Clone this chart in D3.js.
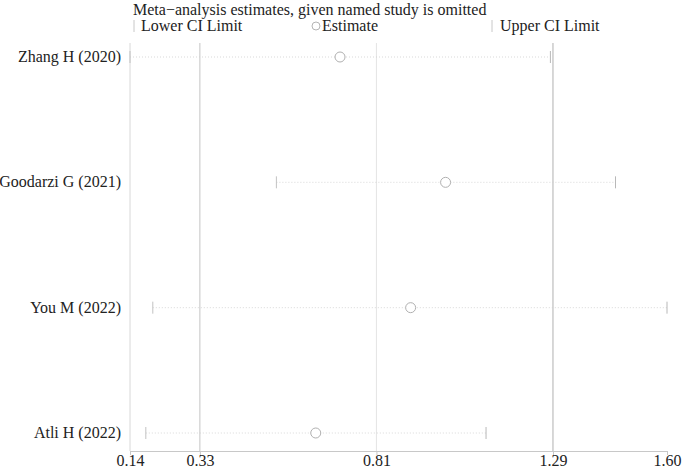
<!DOCTYPE html>
<html>
<head>
<meta charset="utf-8">
<title>Meta-analysis sensitivity plot</title>
<script src="https://d3js.org/d3.v7.min.js"></script>
</head>
<body style="margin:0;background:#fff">
<svg id="chart" width="685" height="470"></svg>
<script>
// data
var studies = ['Zhang H (2020)', 'Goodarzi G (2021)', 'You M (2022)', 'Atli H (2022)'];
var estimates = [0.711, 0.998, 0.903, 0.645];
var lowerCI = [0.14, 0.538, 0.202, 0.183];
var upperCI = [1.283, 1.46, 1.60, 1.108];
var tickValues = [0.14, 0.33, 0.81, 1.29, 1.60];
var tickLabels = ['0.14', '0.33', '0.81', '1.29', '1.60'];
// overall pooled lower / estimate / upper
var refLines = [0.33, 0.81, 1.29];
var refColors = ['#c4c4c4', '#e4e4e4', '#b0b0b0'];

var serif = '"Liberation Serif"';
var fs = '16px';
var svg = d3.select('#chart');
var x = d3.scaleLinear().domain([0.14, 1.60]).range([130, 667]);
var y = d3.scalePoint().domain(studies).range([57, 433]);
var plotTop = 43, plotBottom = 451;

function label(sel) {
    return sel.style('font-family', serif).style('font-size', fs).style('fill', '#222');
}

// title
svg.append('text')
    .attr('x', 133).attr('y', 15)
    .call(label)
    .text('Meta\u2212analysis estimates, given named study is omitted');

// legend
var leg = svg.append('g');
leg.append('line').attr('x1', 134).attr('x2', 134).attr('y1', 20).attr('y2', 32)
    .attr('stroke', '#c8c8c8');
leg.append('text').attr('x', 141).attr('y', 31).call(label).text('Lower CI Limit');
leg.append('circle').attr('cx', 316).attr('cy', 26).attr('r', 4)
    .attr('fill', 'none').attr('stroke', '#b5b5b5');
leg.append('text').attr('x', 322).attr('y', 31).call(label).text('Estimate');
leg.append('line').attr('x1', 492).attr('x2', 492).attr('y1', 20).attr('y2', 32)
    .attr('stroke', '#c8c8c8');
leg.append('text').attr('x', 500).attr('y', 31).call(label).text('Upper CI Limit');

// left axis line
svg.append('line')
    .attr('x1', x(0.14)).attr('x2', x(0.14))
    .attr('y1', plotTop).attr('y2', plotBottom)
    .attr('stroke', '#d8d8d8');

// reference lines
svg.selectAll('.ref')
    .data(refLines)
    .enter().append('line')
    .attr('class', 'ref')
    .attr('x1', function (d) { return x(d); })
    .attr('x2', function (d) { return x(d); })
    .attr('y1', plotTop).attr('y2', plotBottom)
    .attr('stroke', function (d, i) { return refColors[i]; });

// bottom axis
var xAxis = d3.axisBottom(x)
    .tickValues(tickValues)
    .tickFormat(function (d, i) { return tickLabels[i]; })
    .tickSizeOuter(0)
    .tickSize(4);
var ax = svg.append('g')
    .attr('transform', 'translate(0,' + plotBottom + ')')
    .call(xAxis);
ax.select('.domain').attr('stroke', '#c8c8c8');
ax.selectAll('.tick line').attr('stroke', '#c8c8c8');
ax.selectAll('.tick text')
    .attr('y', 4)
    .call(label);

// study labels
svg.selectAll('.lab')
    .data(studies)
    .enter().append('text')
    .attr('class', 'lab')
    .attr('x', 121)
    .attr('y', function (d) { return y(d) + 5; })
    .attr('text-anchor', 'end')
    .call(label)
    .text(function (d) { return d; });

// CI rows
var rows = svg.selectAll('.row')
    .data(studies)
    .enter().append('g')
    .attr('class', 'row');

rows.append('line')
    .attr('x1', function (d, i) { return x(lowerCI[i]); })
    .attr('x2', function (d, i) { return x(upperCI[i]); })
    .attr('y1', function (d) { return y(d); })
    .attr('y2', function (d) { return y(d); })
    .attr('stroke', '#cfcfcf')
    .attr('stroke-width', 0.8)
    .attr('stroke-dasharray', '1,2');

rows.append('line')
    .attr('x1', function (d, i) { return x(lowerCI[i]); })
    .attr('x2', function (d, i) { return x(lowerCI[i]); })
    .attr('y1', function (d) { return y(d) - 6; })
    .attr('y2', function (d) { return y(d) + 6; })
    .attr('stroke', '#c2c2c2');

rows.append('line')
    .attr('x1', function (d, i) { return x(upperCI[i]); })
    .attr('x2', function (d, i) { return x(upperCI[i]); })
    .attr('y1', function (d) { return y(d) - 6; })
    .attr('y2', function (d) { return y(d) + 6; })
    .attr('stroke', '#b8b8b8');

rows.append('circle')
    .attr('cx', function (d, i) { return x(estimates[i]); })
    .attr('cy', function (d) { return y(d); })
    .attr('r', 5)
    .attr('fill', '#fff')
    .attr('stroke', '#b0b0b0');
</script>
</body>
</html>
